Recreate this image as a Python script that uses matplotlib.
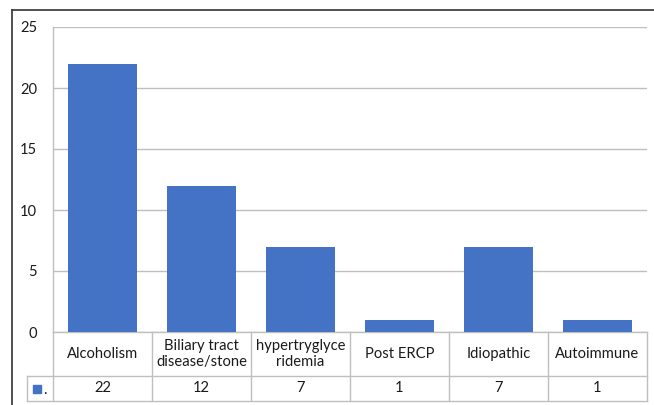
import matplotlib
matplotlib.use("Agg")
import matplotlib.pyplot as plt
from matplotlib.transforms import blended_transform_factory
from matplotlib.patches import Rectangle

categories = ["Alcoholism", "Biliary tract\ndisease/stone", "hypertryglyce\nridemia",
              "Post ERCP", "Idiopathic", "Autoimmune"]
values = [22, 12, 7, 1, 7, 1]
yticks = [0, 5, 10, 15, 20, 25]

plt.rcParams['font.family'] = ['Lato', 'DejaVu Sans']
W, H = 654, 405
fig = plt.figure(figsize=(W / 100, H / 100), dpi=100)

def fx(px):
    return px / W

def fy(py):
    return 1 - py / H

# outer frame (left and top visible; right/bottom run off the image)
fig.add_artist(plt.Line2D([fx(12), fx(12)], [fy(10), 0], transform=fig.transFigure,
                          color="#333333", linewidth=1.2))
fig.add_artist(plt.Line2D([fx(12), 1], [fy(10), fy(10)], transform=fig.transFigure,
                          color="#333333", linewidth=1.2))

left, right, top, zero = 53, 647, 27, 332
ax = fig.add_axes([fx(left), fy(zero), fx(right - left), (zero - top) / H])
bar_color = "#4472C4"
grid_color = "#BFBFBF"
text_color = "#1A1A1A"
fs = 10.6
x = list(range(len(categories)))
ax.bar(x, values, width=0.69, color=bar_color, zorder=3)
ax.set_xlim(-0.5, len(categories) - 0.5)
ax.set_ylim(0, 25)
ax.set_yticks(yticks)
ax.set_yticklabels([str(t) for t in yticks], fontsize=fs, color=text_color)
ax.tick_params(axis='y', length=0, pad=11.5)
ax.set_xticks([])
ax.grid(axis='y', color=grid_color, linewidth=1, zorder=0)
for s in ["top", "right", "bottom"]:
    ax.spines[s].set_visible(False)
ax.spines["left"].set_color(grid_color)
ax.spines["left"].set_linewidth(1)

# table under the axes
tr = blended_transform_factory(ax.transData, ax.transAxes)
ph = zero - top
y_head = -44 / ph
y_bot = -69 / ph
lc = dict(color=grid_color, linewidth=1, transform=tr, clip_on=False)
n = len(categories)
ax.plot([-0.5, n - 0.5], [0, 0], **lc)
leg_left = -0.5 - 26 / 99
ax.plot([leg_left, n - 0.5], [y_head, y_head], **lc)
ax.plot([leg_left, n - 0.5], [y_bot, y_bot], **lc)
for b in range(n + 1):
    ax.plot([b - 0.5, b - 0.5], [0, y_bot], **lc)
ax.plot([leg_left, leg_left], [y_head, y_bot], **lc)

for i, (c, v) in enumerate(zip(categories, values)):
    ax.text(i, y_head / 2, c, transform=tr, ha='center', va='center',
            fontsize=fs, color=text_color, linespacing=1.15, clip_on=False)
    ax.text(i, (y_head + y_bot) / 2, str(v), transform=tr, ha='center', va='center',
            fontsize=fs, color=text_color, clip_on=False)

# legend key
ym = (y_head + y_bot) / 2
key_h = 8 / ph
ax.add_patch(Rectangle((leg_left + 6 / 99, ym - key_h / 2), 8 / 99, key_h,
                       transform=tr, color=bar_color, clip_on=False))
ax.text(leg_left + 16 / 99, ym - 2 / ph, ".", transform=tr, ha='left', va='center',
        fontsize=fs, color=text_color, clip_on=False)

fig.savefig("out.png", dpi=100)
